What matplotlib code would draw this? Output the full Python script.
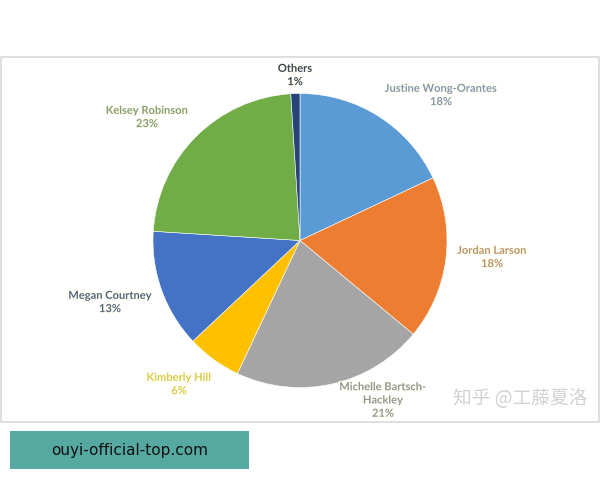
import matplotlib.pyplot as plt
from matplotlib.patches import Rectangle
import matplotlib.patheffects as pe

# Data
players = ["Justine Wong-Orantes", "Jordan Larson", "Michelle Bartsch-\nHackley",
           "Kimberly Hill", "Megan Courtney", "Kelsey Robinson", "Others"]
shares = [18, 18, 21, 6, 13, 23, 1]
slice_colors = ["#5B9BD5", "#ED7D31", "#A5A5A5", "#FFC000", "#4472C4", "#70AD47", "#264478"]
label_colors = ["#8497AB", "#B8966C", "#959595", "#D6CB4E", "#56667A", "#8A9E74", "#3C4652"]

# Label positions (pixel coords from top-left)
label_pos = [(441, 95), (492, 257), (383, 400), (179, 384), (110, 302), (147, 117), (295, 75)]

plt.rcParams['font.family'] = ['Lato', 'DejaVu Sans']

fig = plt.figure(figsize=(6, 4.8), dpi=100)
ax = fig.add_axes([0, 0, 1, 1])

# y axis runs downward (pixel style), so the pie is drawn with mirrored angles:
# data angle -90 is the visual top, and counter-clockwise in data is clockwise on screen
wedges, _ = ax.pie(shares, colors=slice_colors, startangle=-90, counterclock=True,
                   center=(300, 240.5), radius=147, frame=True,
                   wedgeprops=dict(edgecolor="white", linewidth=0.4))
ax.set_xlim(0, 600)
ax.set_ylim(480, 0)
ax.set_aspect('equal')
ax.axis('off')

# chart frame
ax.add_patch(Rectangle((1, 57), 598, 365, fill=False, edgecolor="#D9D9D9", lw=1.2))

for name, pct, col, (x, y) in zip(players, shares, label_colors, label_pos):
    ax.text(x, y, f"{name}\n{pct}%", ha='center', va='center', fontsize=8,
            fontweight='bold', color=col, linespacing=1.25,
            path_effects=[pe.withStroke(linewidth=2, foreground="#FFFFF4")])

# watermark
ax.text(520, 398, "知乎 @工藤夏洛", ha='center', va='center', fontsize=13.5,
        color="#D2D2D2", family=['Noto Sans CJK SC', 'DejaVu Sans'])

# site banner
ax.add_patch(Rectangle((10, 431), 239, 38, facecolor="#55A9A1", edgecolor="none"))
ax.text(130, 450, "ouyi-official-top.com", ha='center', va='center', fontsize=11,
        color="#111111", family='DejaVu Sans')

fig.savefig("out.png", dpi=100)
